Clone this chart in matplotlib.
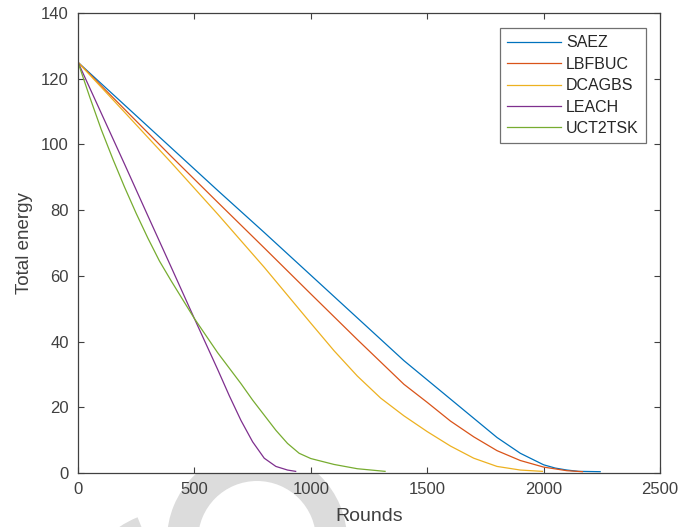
import matplotlib
matplotlib.use("Agg")
import matplotlib.pyplot as plt
from matplotlib.patches import Wedge

plt.rcParams['font.family'] = ['Liberation Sans', 'DejaVu Sans']

# Data
saez_x = [0, 200, 400, 600, 800, 1000, 1200, 1400, 1600, 1800, 1900, 2000, 2050, 2100, 2150, 2243]
saez_y = [125, 112, 99, 86, 73.2, 60.2, 47.2, 34.2, 22.5, 10.8, 6, 2.5, 1.5, 0.9, 0.5, 0.4]

lbf_x = [0, 200, 400, 600, 800, 1000, 1200, 1400, 1500, 1600, 1700, 1800, 1900, 2000, 2100, 2167]
lbf_y = [125, 110.7, 96.4, 82.4, 68.5, 54.5, 40.6, 27, 21.5, 15.8, 11, 6.8, 3.8, 1.8, 0.7, 0.4]

dca_x = [0, 200, 400, 600, 800, 1000, 1100, 1200, 1300, 1400, 1500, 1600, 1700, 1800, 1900, 1995]
dca_y = [125, 109.8, 94.5, 78.8, 62.6, 45.6, 37.2, 29.5, 22.8, 17.4, 12.6, 8.2, 4.5, 2, 0.9, 0.5]

leach_x = [0, 100, 200, 300, 400, 500, 600, 650, 700, 750, 800, 850, 900, 935]
leach_y = [125, 109.5, 94, 78.3, 62.7, 47, 31.5, 23.5, 16, 9.5, 4.5, 2, 0.9, 0.5]

uct_x = [0, 50, 100, 150, 200, 250, 300, 350, 400, 500, 600, 700, 750, 800, 850, 900, 950, 1000, 1100, 1200, 1319]
uct_y = [125, 114.5, 104.5, 95.5, 87, 79, 71.5, 64.5, 58.5, 47, 36.6, 27.2, 22.2, 17.6, 13, 9, 6, 4.4, 2.6, 1.3, 0.5]

series = [
    ("SAEZ", saez_x, saez_y, "#0072BD"),
    ("LBFBUC", lbf_x, lbf_y, "#D95319"),
    ("DCAGBS", dca_x, dca_y, "#EDB120"),
    ("LEACH", leach_x, leach_y, "#7E2F8E"),
    ("UCT2TSK", uct_x, uct_y, "#77AC30"),
]

x_ticks = [0, 500, 1000, 1500, 2000, 2500]
y_ticks = [0, 20, 40, 60, 80, 100, 120, 140]

W, H = 694, 527
fig = plt.figure(figsize=(W / 100, H / 100), dpi=100)

# light grey watermark pieces (behind the axes), placed in inches
tr = fig.dpi_scale_trans
ring = Wedge((2.57, (H - 540) / 100), 0.90, 0, 360, width=0.31,
             transform=tr, facecolor="#dcdcdc", edgecolor="none", zorder=0)
fig.patches.append(ring)
piece = Wedge((1.75, (H - 610) / 100), 1.0, 112, 160, width=0.28,
              transform=tr, facecolor="#dcdcdc", edgecolor="none", zorder=0)
fig.patches.append(piece)

ax = fig.add_axes([78 / W, 1 - 473 / H, (660 - 78) / W, (473 - 13) / H])
ax.set_zorder(1)

for name, xs, ys, col in series:
    ax.plot(xs, ys, color=col, lw=0.9, label=name)

ax.set_xlim(0, 2500)
ax.set_ylim(0, 140)
ax.set_xticks(x_ticks)
ax.set_yticks(y_ticks)

axcol = "#404040"
for s in ax.spines.values():
    s.set_color(axcol)
    s.set_linewidth(0.9)
ax.tick_params(direction="in", length=4.3, width=0.8, color=axcol, labelcolor=axcol,
               labelsize=12, top=True, right=True, pad=6.5)

ax.set_xlabel("Rounds", fontsize=14, color=axcol, labelpad=8)
ax.set_ylabel("Total energy", fontsize=13.5, color=axcol, labelpad=6)

leg = ax.legend(loc="upper right", bbox_to_anchor=(0.976, 0.967), borderaxespad=0,
                fontsize=11.5, handlelength=3.4, handletextpad=0.3, labelspacing=0.4,
                borderpad=0.45, fancybox=False, framealpha=1, edgecolor="#707070")
leg.get_frame().set_linewidth(0.9)
for t in leg.get_texts():
    t.set_color("#262626")

fig.savefig("out.png", dpi=100)
